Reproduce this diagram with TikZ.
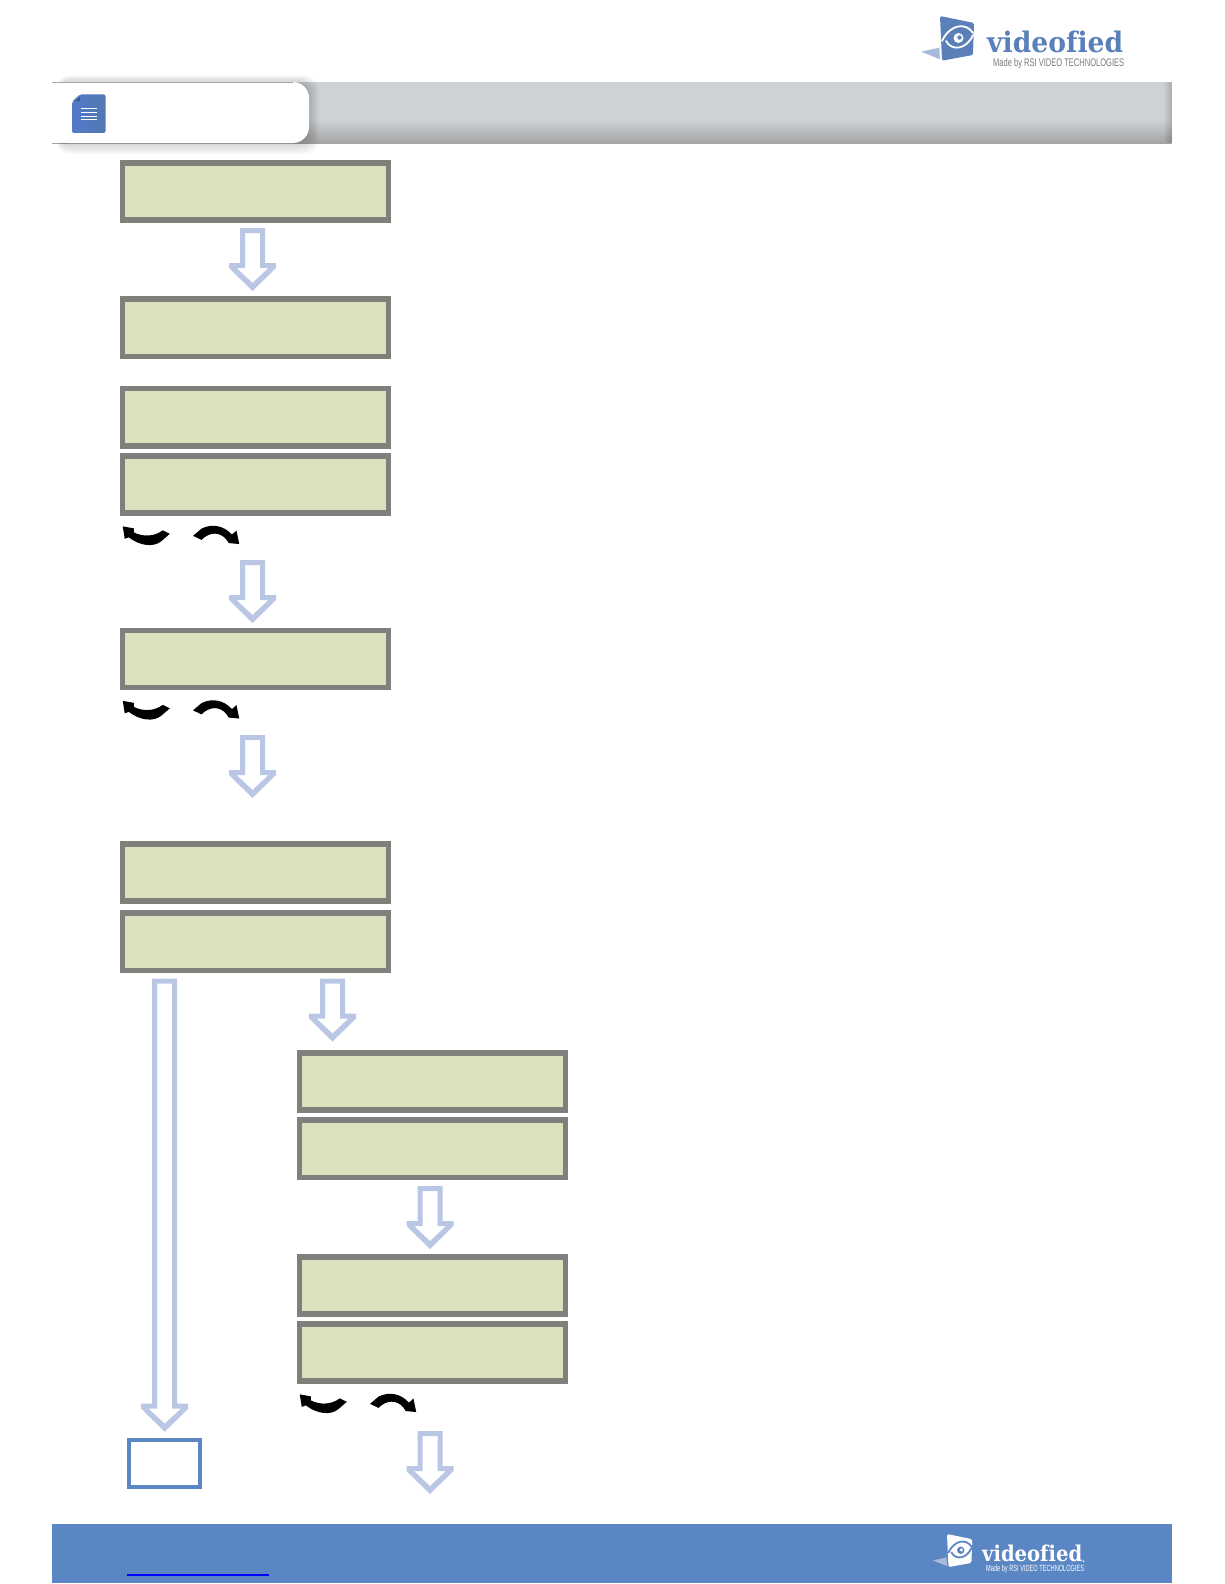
\documentclass[tikz,border=0pt]{standalone}
\usepackage{fontspec}
\usepackage{graphicx}
\usetikzlibrary{calc}
\newfontfamily\logofont{DejaVu Serif}
\newfontfamily\subfont{Liberation Sans}
\definecolor{lcdfill}{HTML}{D9E2BC}
\definecolor{lcdedge}{HTML}{7F7F7B}
\definecolor{hollowblue}{HTML}{B9C7E5}
\definecolor{barblue}{HTML}{5B86C4}
\definecolor{logoblue}{HTML}{5A80BA}
\definecolor{wingblue}{HTML}{A9BBDD}
\definecolor{headtop}{HTML}{CFD2D4}
\definecolor{headlow}{HTML}{A2A4A6}
\definecolor{subgrey}{HTML}{77797C}
\tikzset{
  lcd/.style={draw=lcdedge,fill=lcdfill,line width=5.5pt,minimum width=266pt,minimum height=57.2pt,inner sep=0pt,outer sep=.5\pgflinewidth},
  endbox/.style={draw=barblue,fill=white,line width=3.6pt,minimum width=71pt,minimum height=47.5pt,inner sep=0pt,outer sep=0pt},
  hollow/.style={fill=hollowblue,even odd rule},
  turnL/.pic={\fill[black] (50,18) -- (43,14.5) .. controls (35,20.5) and (24,21.5) .. (14,16.5) -- (14,12.5) -- (3,10.5) -- (5,23) -- (9,21.5) .. controls (20,30) and (34,32) .. (42,25) -- cycle;},
  turnR/.pic={\fill[black] (73.3,20) -- (81.7,12.8) .. controls (92,7.5) and (104,9.5) .. (112.2,18.8) -- (116.7,14.7) -- (119.5,28.2) -- (109,27.2) -- (106.5,23.5) .. controls (100,15.8) and (90,15.8) .. (81.7,24) -- cycle;},
  pics/logomark/.style 2 args={code={
    \fill[wingblue] (-19,35.7) -- (-0.7,31.7) -- (0,43.3) -- cycle;
    \fill[#1,rounded corners=1.5pt] (0,0) -- (34,7) -- (33,39) -- (2,44.7) -- cycle;
    \draw[#2,line width=1.8pt,line cap=round] (2,25) .. controls (10,8) and (26,6) .. (33,17);
    \draw[#2,line width=1.8pt,line cap=round] (6,25) .. controls (12,36) and (27,33) .. (33,19);
    \fill[#2] (18.5,22) circle (5);
    \fill[#1] (19.5,21.5) circle (2.2);
  }}
}
\newcommand{\hollowarrow}[2]{%
  \fill[hollow]
    ($(#1)+(-12.5,0)$) -- ($(#1)+(12.5,0)$) -- ($(#2)+(12.5,-28)$) -- ($(#2)+(23.5,-28)$) --
    ($(#2)+(23.5,-23)$) -- (#2) -- ($(#2)+(-23.5,-23)$) -- ($(#2)+(-23.5,-28)$) -- ($(#2)+(-12.5,-28)$) -- cycle
    ($(#1)+(-7.5,5)$) -- ($(#1)+(7.5,5)$) -- ($(#2)+(7.5,-23)$) -- ($(#2)+(16,-23)$) --
    ($(#2)+(0,-8)$) -- ($(#2)+(-16,-23)$) -- ($(#2)+(-7.5,-23)$) -- cycle;}
\begin{document}
\begin{tikzpicture}[x=1pt,y=-1pt]
\useasboundingbox (0,0) rectangle (1224,1584);
% header band
\fill[headtop] (52,82) rectangle (1171.5,120);
\shade[top color=headtop,bottom color=headlow] (52,120) rectangle (1171.5,143);
\foreach \i in {0,...,7}{\fill[black,opacity=.018] (1163.5+\i,82) rectangle (1171.5,143);}
% tab shadow
\foreach \g in {11,9.5,...,0.5}{
  \fill[black,opacity=.022,rounded corners=15pt] (56,82-\g*.6) rectangle (309+\g*.9,143+\g);
}
\fill[white,rounded corners=16pt] (52,82) -- (309,82) -- (309,143) -- (52,143) -- cycle;
\fill[white] (52,82) rectangle (80,143);
\draw[black!35,line width=.5pt] (52,82.2) -- (293,82.2);
% document icon
\shade[left color=barblue!90!blue,right color=barblue!90!black,rounded corners=2pt] (80,94.3) -- (105.5,94.3) -- (105.5,133) -- (72,133) -- (72,101.7) -- cycle;
\fill[logoblue!70!black] (75,101.5) -- (80,96.5) -- (80,101.5) -- cycle;
\foreach \y in {108,112,116,119.5}{\draw[white,line width=.8pt] (81,\y) -- (97,\y);}
% top logo
\pic at (940,16) {logomark={logoblue}{white}};
\node[inner sep=0pt,anchor=south west,text=logoblue] (toplogo) at (987,53) {\resizebox{136pt}{21.5pt}{\logofont\bfseries videof\kern0pt ied}};
\node[inner sep=0pt,anchor=south west,text=logoblue,font=\logofont\fontsize{5}{5}\selectfont] (topdot) at (1125,53) {.};
\node[inner sep=0pt,anchor=south west,text=subgrey] (topsub) at (993,69) {\resizebox{131pt}{8pt}{\subfont Made by RSI VIDEO TECHNOLOGIES}};
% LCD boxes
\node[lcd] (b1) at (255.5,191.5) {};
\node[lcd] (b2) at (255.5,327.8) {};
\node[lcd] (b3) at (255.5,417.3) {};
\node[lcd] (b4) at (255.5,484.5) {};
\node[lcd] (b5) at (255.5,659) {};
\node[lcd] (b6) at (255.5,872.5) {};
\node[lcd] (b7) at (255.5,941.8) {};
\node[lcd] (c1) at (432.5,1081.5) {};
\node[lcd] (c2) at (432.5,1148.8) {};
\node[lcd] (c3) at (432.5,1285.5) {};
\node[lcd] (c4) at (432.5,1352.5) {};
\node[endbox] (e1) at (164.7,1463.5) {};
% hollow arrows
\coordinate (a1s) at (252.5,228);  \coordinate (a1e) at (252.5,291);
\coordinate (a2s) at (252.5,560);  \coordinate (a2e) at (252.5,623);
\coordinate (a3s) at (252.5,735);  \coordinate (a3e) at (252.5,798);
\coordinate (a4s) at (332.5,978.5);\coordinate (a4e) at (332.5,1041.5);
\coordinate (a5s) at (430,1186);   \coordinate (a5e) at (430,1249);
\coordinate (a6s) at (430,1431);   \coordinate (a6e) at (430,1494);
\coordinate (a7s) at (164.7,978.5);\coordinate (a7e) at (164.7,1431.7);
\hollowarrow{a1s}{a1e}
\hollowarrow{a2s}{a2e}
\hollowarrow{a3s}{a3e}
\hollowarrow{a4s}{a4e}
\hollowarrow{a5s}{a5e}
\hollowarrow{a6s}{a6e}
\hollowarrow{a7s}{a7e}
% curved black arrows
\pic at (b4.south west) {turnL};
\pic at (b4.south west) {turnR};
\pic at (b5.south west) {turnL};
\pic at (b5.south west) {turnR};
\pic at (c4.south west) {turnL};
\pic at (c4.south west) {turnR};
% footer
\fill[barblue] (52,1524) rectangle (1171.5,1583);
\draw[blue,line width=1.2pt] (127,1575) -- (269,1575);
\pic[scale=.74] at (947,1534) {logomark={white}{barblue}};
\node[inner sep=0pt,anchor=south west,text=white] (botlogo) at (982,1561.7) {\resizebox{100pt}{16.5pt}{\logofont\bfseries videof\kern0pt ied}};
\node[inner sep=0pt,anchor=south west,text=white,font=\logofont\bfseries\fontsize{9}{9}\selectfont] (botdot) at (1082,1562.5) {.};
\node[inner sep=0pt,anchor=south west,text=white] (botsub) at (986,1574) {\resizebox{98pt}{6.5pt}{\subfont Made by RSI VIDEO TECHNOLOGIES}};
\end{tikzpicture}
\end{document}
